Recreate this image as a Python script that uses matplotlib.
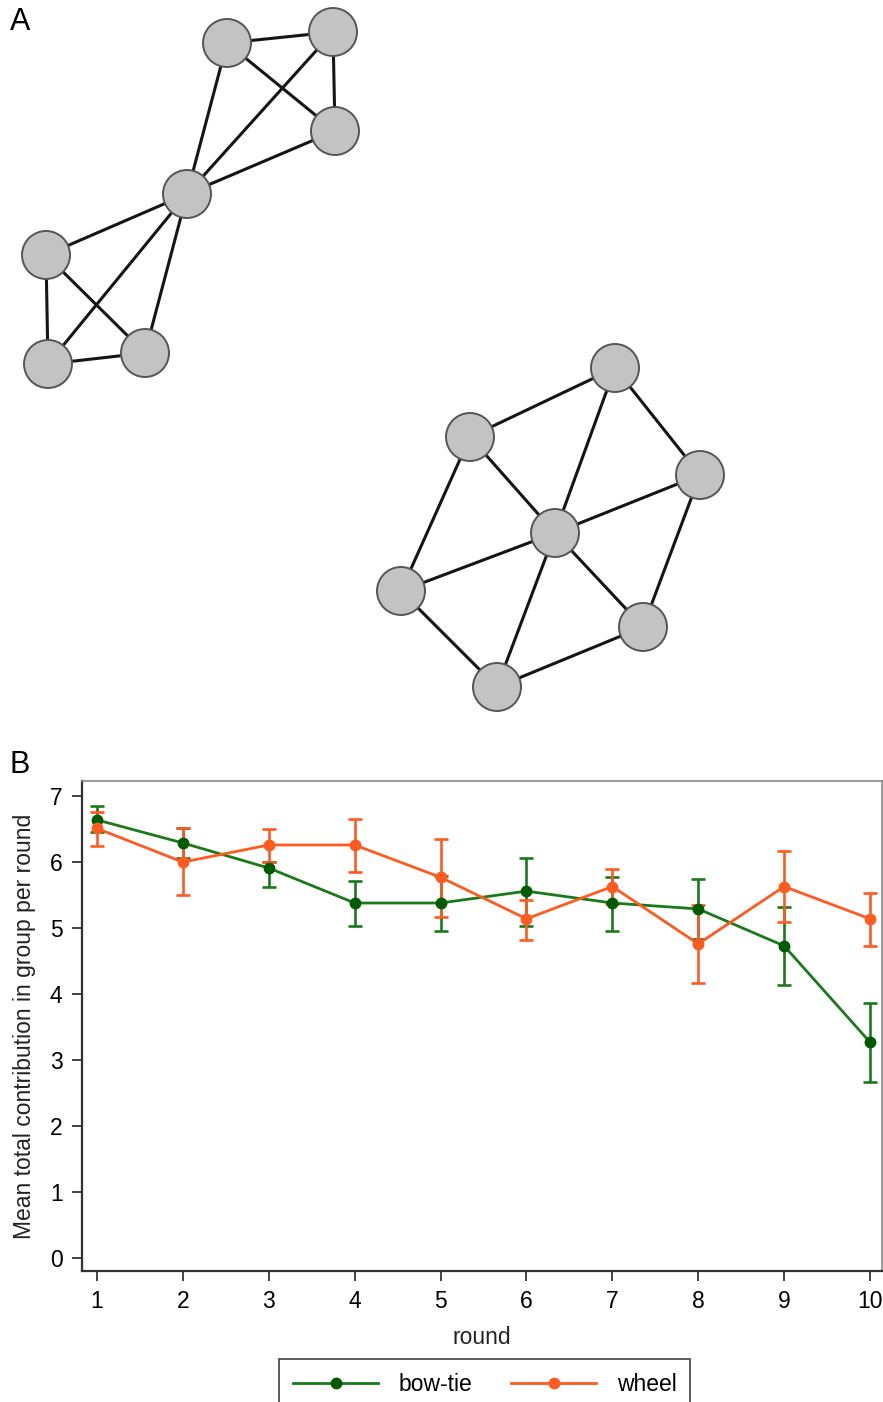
import numpy as np
import matplotlib
matplotlib.use('Agg')
import matplotlib.pyplot as plt
from matplotlib.patches import Circle

plt.rcParams['font.family'] = ['Liberation Sans', 'DejaVu Sans']

# panel A: network layouts (pixel positions in the top panel)
bowtie_nodes = [(227, 43), (333, 32), (335, 131), (187, 194), (46, 255), (48, 364), (145, 353)]
bowtie_edges = [(0, 1), (0, 2), (1, 2), (0, 3), (1, 3), (2, 3),
                (3, 4), (3, 5), (3, 6), (4, 5), (4, 6), (5, 6)]
wheel_nodes = [(615, 368), (470, 437), (700, 475), (555, 533), (401, 591), (643, 627), (497, 687)]
wheel_edges = [(3, 0), (3, 1), (3, 2), (3, 4), (3, 5), (3, 6),
               (0, 1), (0, 2), (2, 5), (5, 6), (6, 4), (4, 1)]

# panel B: mean contribution per round with confidence intervals
rounds = np.arange(1, 11)
bowtie_mean = [6.64, 6.29, 5.91, 5.38, 5.38, 5.56, 5.38, 5.29, 4.73, 3.27]
bowtie_lo = [6.45, 6.06, 5.62, 5.03, 4.95, 5.03, 4.95, 4.84, 4.14, 2.67]
bowtie_hi = [6.85, 6.52, 6.00, 5.71, 5.79, 6.06, 5.78, 5.74, 5.32, 3.86]
wheel_mean = [6.51, 6.00, 6.26, 6.26, 5.77, 5.14, 5.63, 4.76, 5.63, 5.14]
wheel_lo = [6.24, 5.50, 6.00, 5.85, 5.17, 4.82, 5.37, 4.17, 5.09, 4.73]
wheel_hi = [6.76, 6.51, 6.50, 6.66, 6.35, 5.42, 5.89, 5.35, 6.17, 5.53]

green = '#1a7a1a'
green_dark = '#005a00'
orange = '#ff5a1f'

fig = plt.figure(figsize=(8.83, 14.02), dpi=100)

# ---- panel A
axA = fig.add_axes([0, 1 - 720/1402, 1, 720/1402])
axA.set_xlim(0, 883)
axA.set_ylim(720, 0)
axA.axis('off')
for nodes, edges in ((bowtie_nodes, bowtie_edges), (wheel_nodes, wheel_edges)):
    for a, b in edges:
        axA.plot([nodes[a][0], nodes[b][0]], [nodes[a][1], nodes[b][1]],
                 color='#151515', lw=2.2, zorder=1)
    for x, y in nodes:
        axA.add_patch(Circle((x, y), 24, facecolor='#c3c3c3', edgecolor='#555555',
                             lw=1.4, zorder=2))
fig.text(10/883, 1 - 22/1402, 'A', fontsize=22, va='center', ha='left')
fig.text(10/883, 1 - 765/1402, 'B', fontsize=22, va='center', ha='left')

# ---- panel B
ax = fig.add_axes([82/883, 1 - 1271/1402, 800/883, 490/1402])
for mean, lo, hi, col, mcol, lab in ((bowtie_mean, bowtie_lo, bowtie_hi, green, green_dark, 'bow-tie'),
                                     (wheel_mean, wheel_lo, wheel_hi, orange, orange, 'wheel')):
    mean = np.array(mean)
    yerr = [mean - np.array(lo), np.array(hi) - mean]
    ax.errorbar(rounds, mean, yerr=yerr, fmt='none', ecolor=col, elinewidth=1.9,
                capsize=5, capthick=1.9, zorder=2)
    ax.plot(rounds, mean, color=col, lw=2.0, marker='o', ms=7.5,
            mfc=mcol, mec=mcol, label=lab, zorder=3)

ax.set_xlim(0.825, 10.14)
ax.set_ylim(-0.2, 7.23)
ax.set_xticks(rounds)
ax.set_yticks(range(0, 8))
ax.tick_params(labelsize=16.5, length=7, width=1.3, color='#333333', pad=7)
for s in ('left', 'bottom'):
    ax.spines[s].set_color('#333333')
    ax.spines[s].set_linewidth(1.6)
for s in ('top', 'right'):
    ax.spines[s].set_color('#888888')
    ax.spines[s].set_linewidth(1.2)
ax.set_xlabel('round', fontsize=16.5, labelpad=9, color='#222222')
ax.set_ylabel('Mean total contribution in group per round', fontsize=16.5,
              labelpad=10, color='#222222')

leg = fig.legend(loc='upper center', bbox_to_anchor=(0.549, 1 - 1359/1402), ncol=2,
                 fontsize=16.5, frameon=True, fancybox=False, edgecolor='#222222',
                 handlelength=3.7, handletextpad=0.9, columnspacing=1.7,
                 borderpad=0.6, borderaxespad=0, numpoints=1)
leg.get_frame().set_linewidth(1.3)

fig.savefig('out.png', dpi=100)
